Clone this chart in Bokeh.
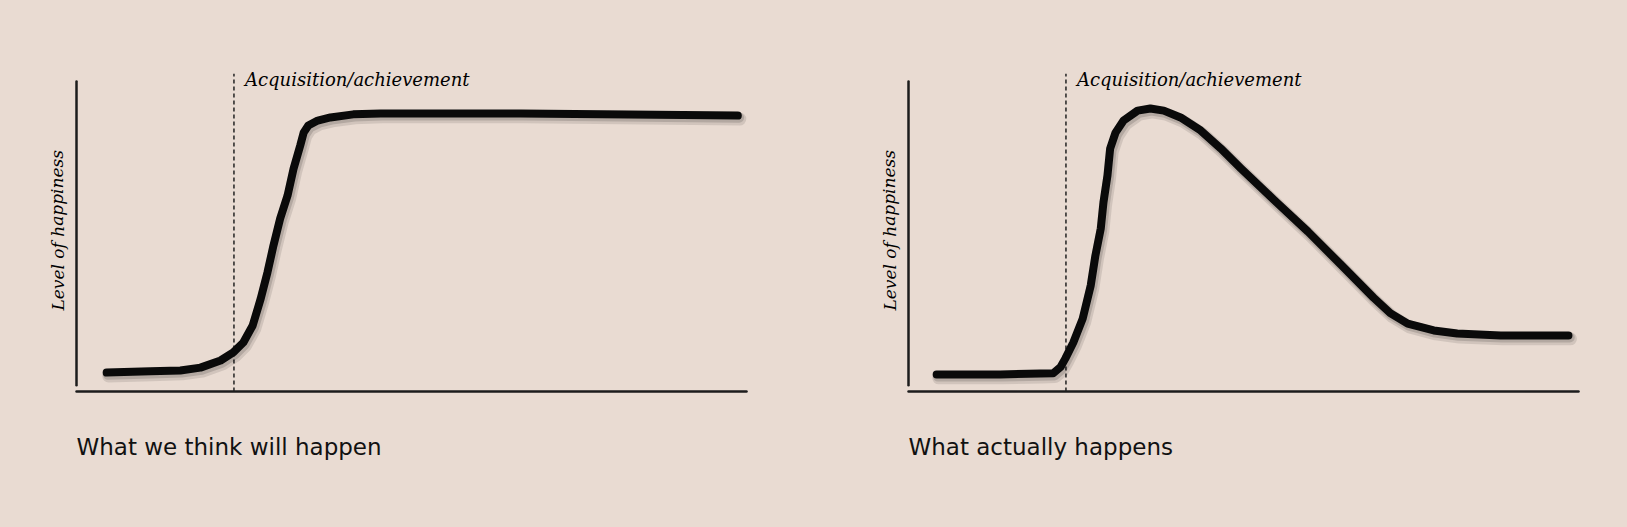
from bokeh.plotting import figure
from bokeh.layouts import row
from bokeh.models import Range1d, ColumnDataSource
from bokeh.core.properties import value
from bokeh.transform import dodge
from bokeh.embed import file_html
from bokeh.resources import INLINE

# ---------------- data (time 0..100, happiness 0..100) ----------------
expected_t = [4.5, 11.0, 15.5, 18.5, 21.5, 23.4, 24.9, 26.3, 27.5, 28.5, 29.4, 30.4, 31.5, 32.4, 33.4,
              33.9, 34.6, 36.0, 37.9, 41.3, 45.4, 66.3, 98.7]
expected_h = [6.1, 6.5, 6.8, 7.7, 10.0, 12.6, 15.8, 21.3, 30.0, 38.4, 47.1, 55.8, 63.2, 71.9, 79.4,
              83.5, 85.8, 87.4, 88.4, 89.4, 89.7, 89.7, 89.0]

actual_t = [4.2, 13.7, 19.7, 21.6, 22.7, 23.4, 24.6, 26.0, 27.2, 27.9, 28.7, 29.1, 29.7, 30.1, 30.9,
            32.1, 34.2, 36.1, 38.1, 40.6, 43.6, 46.6, 49.6, 54.5, 59.6, 64.5, 69.4, 71.9, 74.5,
            78.4, 81.9, 88.4, 98.5]
actual_h = [5.5, 5.5, 5.8, 5.9, 7.9, 10.6, 15.8, 23.5, 34.2, 43.9, 52.6, 61.0, 69.7, 78.4, 83.5,
            87.4, 90.6, 91.3, 90.6, 88.4, 84.2, 78.4, 72.0, 61.9, 51.6, 41.0, 30.3, 25.3, 21.9,
            19.7, 18.7, 18.1, 18.1]

event_t = 23.5
event_label = "Acquisition/achievement"
y_label = "Level of happiness"
titles = ["What we think will happen", "What actually happens"]

# ---------------- style / layout ----------------
BG = "#E9DBD2"
INK = "#0a0a0a"
PX_X = 6.7      # pixels per time unit
PX_Y = 3.1      # pixels per happiness unit
H = 527
ORIGIN_X = 76   # px from figure left to the axis origin
ORIGIN_Y = 136  # px from figure bottom to the axis origin


def panel(t, h, title, width):
    p = figure(width=width, height=H, output_backend="svg", toolbar_location=None,
               x_range=Range1d(-ORIGIN_X / PX_X, (width - ORIGIN_X) / PX_X),
               y_range=Range1d(-ORIGIN_Y / PX_Y, (H - ORIGIN_Y) / PX_Y),
               min_border=0, x_axis_location=None, y_axis_location=None,
               background_fill_color=BG, border_fill_color=BG,
               outline_line_color=None, title=None)
    p.grid.visible = False

    # hand-drawn axes
    p.segment(x0=[0], y0=[0], x1=[100], y1=[0], line_color="#1c1c1c", line_width=2.5, line_cap="round")
    p.segment(x0=[0], y0=[2], x1=[0], y1=[100], line_color="#1c1c1c", line_width=2.5, line_cap="round")

    # event marker
    p.segment(x0=[event_t], y0=[0], x1=[event_t], y1=[102.5], line_color="#222222",
              line_width=1.5, line_dash="4 3")
    p.text(x=[event_t], y=[100.5], text=[event_label], x_offset=11,
           text_font=value("DejaVu Serif"), text_font_style="italic", text_font_size="18px",
           text_color="#000000", text_baseline="alphabetic", text_align="left")

    # y label
    p.text(x=[0], y=[52], text=[y_label], x_offset=-19, angle=1.5708,
           text_font=value("DejaVu Serif"), text_font_style="italic", text_font_size="17px",
           text_color="#000000", text_baseline="middle", text_align="center")

    # caption
    p.text(x=[0], y=[0], text=[title], x_offset=0, y_offset=55,
           text_font=value("DejaVu Sans"), text_font_size="23px",
           text_color="#111111", text_baseline="alphabetic", text_align="left")

    src = ColumnDataSource(dict(t=t, h=h))
    # soft shadow
    p.line(x=dodge("t", 0.3), y=dodge("h", -1.1), source=src, line_color="#000000",
           line_alpha=0.10, line_width=13, line_join="round", line_cap="round")
    p.line(x=dodge("t", 0.2), y=dodge("h", -0.7), source=src, line_color="#000000",
           line_alpha=0.14, line_width=10, line_join="round", line_cap="round")
    # the curve
    p.line(x="t", y="h", source=src, line_color=INK, line_width=8,
           line_join="round", line_cap="round")
    return p


left = panel(expected_t, expected_h, titles[0], 832)
right = panel(actual_t, actual_h, titles[1], 795)
layout = row(left, right)

html = file_html(layout, INLINE)
css = "<style>html, body { background: %s; }</style>" % BG
html = html.replace("</head>", css + "</head>", 1)
open("out.html", "w").write(html)
